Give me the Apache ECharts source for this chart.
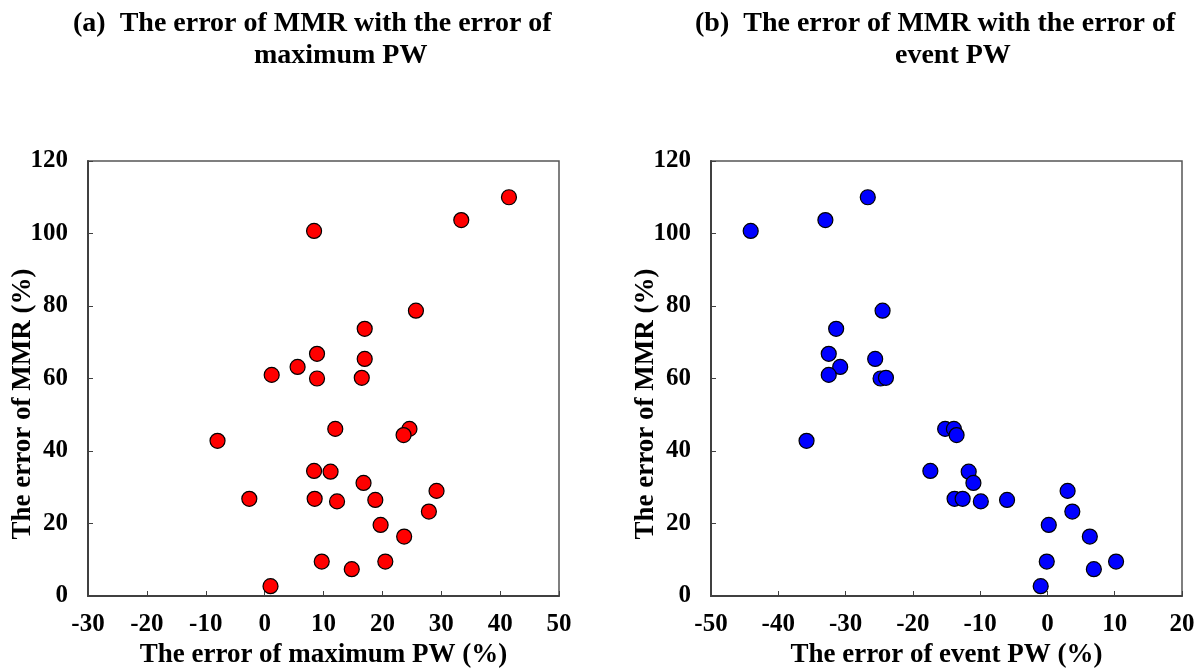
<!DOCTYPE html>
<html>
<head>
<meta charset="utf-8">
<script src="https://cdn.jsdelivr.net/npm/echarts@6/dist/echarts.min.js"></script>
<style>
  html, body { margin: 0; padding: 0; background: #fff; }
  #chart { width: 1202px; height: 668px; }
</style>
</head>
<body>
<div id="chart"></div>
<script>
  // error of MMR (%), shared by both panels
  const mmrErr = [110.0, 103.7, 100.7, 78.7, 73.7, 66.8, 65.4, 63.2, 61.0, 60.0,
    60.2, 46.1, 46.1, 44.4, 42.8, 34.5, 34.3, 31.2, 29.0, 26.8,
    26.8, 26.1, 26.5, 23.3, 19.6, 16.4, 9.5, 9.5, 7.4, 2.7];
  // (a) error of maximum PW (%)
  const maxPwErr = [41.5, 33.4, 8.4, 25.7, 17.0, 8.9, 17.0, 5.6, 1.2, 8.9,
    16.5, 12.0, 24.6, 23.6, -8.0, 8.4, 11.2, 16.8, 29.2, -2.6,
    8.5, 12.3, 18.8, 27.9, 19.7, 23.7, 9.7, 20.5, 14.8, 1.0];
  // (b) error of event PW (%)
  const eventPwErr = [-26.7, -33.0, -44.1, -24.5, -31.4, -32.5, -25.6, -30.8, -32.5, -24.8,
    -24.0, -15.2, -13.9, -13.5, -35.8, -17.4, -11.7, -11.0, 3.0, -13.8,
    -12.6, -9.9, -6.0, 3.7, 0.2, 6.3, -0.1, 10.2, 6.9, -1.0];

  const titleA = ['(a)  The error of MMR with the error of', 'maximum PW'];
  const titleB = ['(b)  The error of MMR with the error of', 'event PW'];
  const xNameA = 'The error of maximum PW (%)';
  const xNameB = 'The error of event PW (%)';
  const yName = 'The error of MMR (%)';

  const FONT = '"Liberation Serif", "Times New Roman", serif';
  const AXIS_COLOR = '#404040';

  function pairs(xs, ys) {
    return xs.map(function (x, i) { return [x, ys[i]]; });
  }

  function xAxisOf(idx, min, max, name) {
    return {
      gridIndex: idx, type: 'value', min: min, max: max, interval: 10,
      name: name, nameLocation: 'middle', nameGap: 42,
      nameTextStyle: { fontFamily: FONT, fontWeight: 'bold', fontSize: 27, color: '#000' },
      axisLine: { onZero: false, lineStyle: { color: AXIS_COLOR, width: 2 } },
      axisTick: { inside: true, length: 5, lineStyle: { color: AXIS_COLOR } },
      axisLabel: { margin: 16, fontFamily: FONT, fontWeight: 'bold', fontSize: 25, color: '#000' },
      splitLine: { show: false },
    };
  }

  function yAxisOf(idx) {
    return {
      gridIndex: idx, type: 'value', min: 0, max: 120, interval: 20,
      axisLine: { onZero: false, lineStyle: { color: AXIS_COLOR, width: 2 } },
      axisTick: { inside: true, length: 5, lineStyle: { color: AXIS_COLOR } },
      axisLabel: { margin: 20, fontFamily: FONT, fontWeight: 'bold', fontSize: 25, color: '#000' },
      splitLine: { show: false },
    };
  }

  function titleText(x, y, text) {
    return {
      type: 'text', left: x, top: y,
      style: { text: text, font: 'bold 28px ' + FONT, fill: '#000' },
    };
  }

  function yTitle(x) {
    return {
      type: 'text', x: x, y: 404, rotation: Math.PI / 2,
      style: { text: yName, font: 'bold 27px ' + FONT, fill: '#000', align: 'center', verticalAlign: 'middle' },
    };
  }

  const myChart = echarts.init(document.getElementById('chart'));

  const option = {
    animation: false,
    backgroundColor: '#fff',
    grid: [
      { left: 88, top: 161, width: 471, height: 435, outerBoundsMode: 'none', containLabel: false,
        show: true, borderColor: '#555', borderWidth: 1.5 },
      { left: 711, top: 161, width: 471, height: 435, outerBoundsMode: 'none', containLabel: false,
        show: true, borderColor: '#555', borderWidth: 1.5 },
    ],
    xAxis: [
      xAxisOf(0, -30, 50, xNameA),
      xAxisOf(1, -50, 20, xNameB),
    ],
    yAxis: [yAxisOf(0), yAxisOf(1)],
    graphic: [
      titleText(73, 10, titleA[0]),
      titleText(254, 42, titleA[1]),
      titleText(695, 10, titleB[0]),
      titleText(895, 42, titleB[1]),
      yTitle(23),
      yTitle(646),
    ],
    series: [
      {
        type: 'scatter', xAxisIndex: 0, yAxisIndex: 0,
        data: pairs(maxPwErr, mmrErr),
        symbolSize: 15,
        itemStyle: { color: '#ff0000', borderColor: '#000', borderWidth: 1.2, opacity: 1 },
      },
      {
        type: 'scatter', xAxisIndex: 1, yAxisIndex: 1,
        data: pairs(eventPwErr, mmrErr),
        symbolSize: 15,
        itemStyle: { color: '#0000ff', borderColor: '#000', borderWidth: 1.2, opacity: 1 },
      },
    ],
  };

  myChart.setOption(option);
</script>
</body>
</html>
